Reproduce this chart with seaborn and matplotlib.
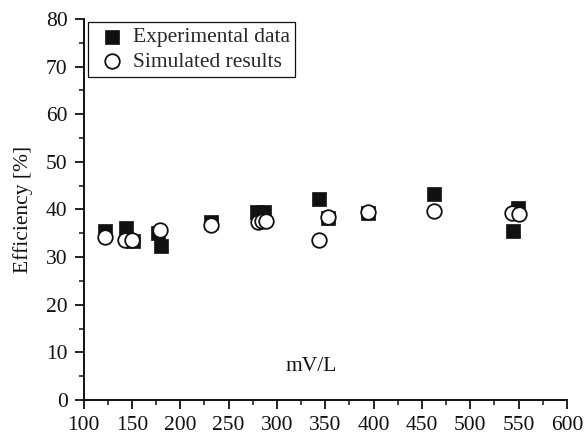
import matplotlib
matplotlib.use("Agg")
import matplotlib.pyplot as plt
import seaborn as sns
import pandas as pd
from matplotlib.ticker import MultipleLocator

# Data
exp_x = [122, 144, 151, 177, 180, 232, 279, 287, 344, 353, 394, 462, 549, 544]
exp_y = [35.5, 36.2, 33.4, 35.0, 32.4, 37.3, 39.5, 39.5, 42.2, 38.2, 39.2, 43.3, 40.4, 35.4]
sim_x = [122, 143, 150, 179, 232, 280, 285, 289, 344, 353, 394, 462, 543, 550]
sim_y = [34.2, 33.6, 33.6, 35.7, 36.7, 37.4, 37.5, 37.6, 33.7, 38.4, 39.5, 39.6, 39.2, 39.0]
series_names = ["Experimental data", "Simulated results"]
x_ticks = [100, 150, 200, 250, 300, 350, 400, 450, 500, 550, 600]
y_ticks = [0, 10, 20, 30, 40, 50, 60, 70, 80]

sns.set_style("ticks")
plt.rcParams['font.family'] = ['Liberation Serif', 'DejaVu Serif']
plt.rcParams['mathtext.fontset'] = 'stix'

FS = 15.5
fig = plt.figure(figsize=(5.88, 4.36), dpi=100)
# axes: x 83.5..567 px, y 19..400 px
ax = fig.add_axes([83.5 / 588, (436 - 400) / 436, (567 - 83.5) / 588, (400 - 19) / 436])

exp_df = pd.DataFrame({"x": exp_x, "y": exp_y})
sim_df = pd.DataFrame({"x": sim_x, "y": sim_y})

sns.scatterplot(data=exp_df, x="x", y="y", ax=ax, marker="s", s=95,
                color="#111111", edgecolor="#111111", linewidth=0.5,
                label=series_names[0], zorder=3)
sns.scatterplot(data=sim_df, x="x", y="y", ax=ax, marker="o", s=110,
                facecolor="white", edgecolor="#111111", linewidth=1.3,
                label=series_names[1], zorder=4)

ax.set_xlim(100, 600)
ax.set_ylim(0, 80)
ax.set_xticks(x_ticks)
ax.set_yticks(y_ticks)
ax.xaxis.set_minor_locator(MultipleLocator(25))
ax.yaxis.set_minor_locator(MultipleLocator(5))
ax.tick_params(axis='both', which='major', direction='out', length=6.5, width=1.3,
               labelsize=FS, colors='#111111', pad=5)
ax.tick_params(axis='both', which='minor', direction='out', length=3.3, width=1.1,
               colors='#111111')
sns.despine(ax=ax)
for sp in ["left", "bottom"]:
    ax.spines[sp].set_linewidth(1.4)
    ax.spines[sp].set_color("#111111")

ax.set_xlabel("")
ax.set_ylabel("Efficiency [%]", fontsize=FS, color="#111111", labelpad=9)
ax.text(0.47, 0.087, "mV/L", transform=ax.transAxes, fontsize=FS,
        ha="center", va="center", color="#111111")

leg = ax.legend(loc="upper left", bbox_to_anchor=(0.009, 0.992), fontsize=FS,
                frameon=True, fancybox=False, handletextpad=0.15,
                borderpad=0.25, labelspacing=0.2, handlelength=1.7,
                borderaxespad=0.0)
leg.get_frame().set_edgecolor("#111111")
leg.get_frame().set_linewidth(0.9)
leg.get_frame().set_alpha(1)

fig.savefig("out.png", dpi=100)
